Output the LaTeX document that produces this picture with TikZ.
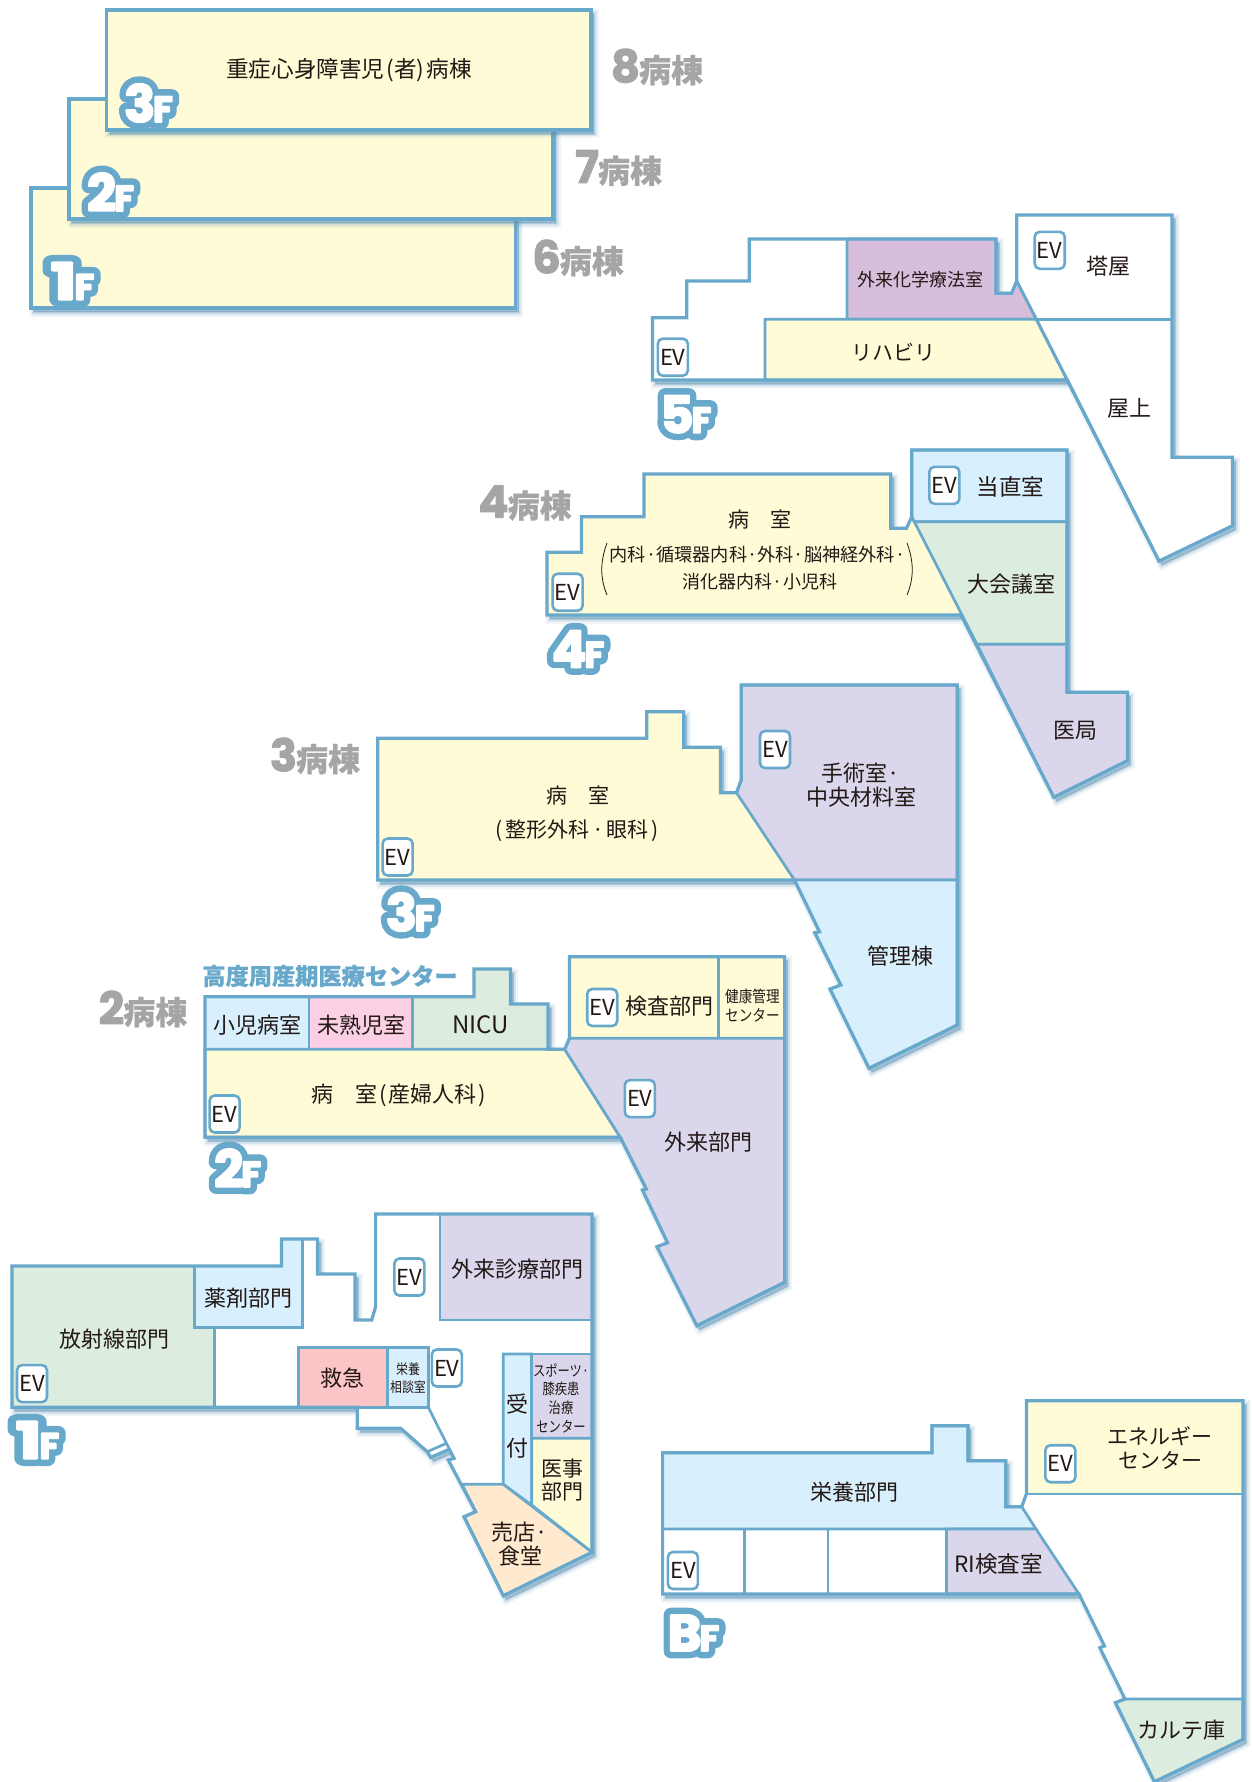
\documentclass[tikz,border=0pt]{standalone}
\usepackage{fontspec}
\usepackage{graphicx}
\setmainfont{Noto Sans CJK JP}[BoldFeatures={FakeBold=.5}]
\newfontfamily\bgoD{Poppins}[BoldFeatures={FakeBold=29}]
\newfontfamily\bgoF{Poppins}[BoldFeatures={FakeBold=41}]
\newfontfamily\bgwD{Poppins}[BoldFeatures={FakeBold=4}]
\newfontfamily\bgwF{Poppins}[BoldFeatures={FakeBold=5}]
\newfontfamily\bgw{Poppins}[BoldFeatures={FakeBold=2}]
\definecolor{bl}{HTML}{68A8CB}
\definecolor{shc}{HTML}{5F93B5}
\definecolor{cy}{HTML}{FFFBD6}
\definecolor{cb}{HTML}{D8F0FE}
\definecolor{cg}{HTML}{DCEDE0}
\definecolor{cp}{HTML}{DAD6EB}
\definecolor{cl}{HTML}{D7BEDC}
\definecolor{cr}{HTML}{FBD0E4}
\definecolor{cs}{HTML}{FCC6C8}
\definecolor{co}{HTML}{FFEACF}
\definecolor{gr}{HTML}{A5A5A5}
\definecolor{tx}{HTML}{231815}
\newcommand{\fz}[1]{\fontsize{#1}{#1}\selectfont}
\newcommand{\fzl}[2]{\fontsize{#1}{#2}\selectfont}
\newcommand{\bdg}[2]{\special{pdf:code 1 j}\mbox{\rlap{\color{bl}\bgoD\bfseries\fontsize{51}{51}\selectfont #1\kern-2pt\bgoF\bfseries\fontsize{36}{36}\selectfont #2}\color{white}\bgwD\bfseries\fontsize{51}{51}\selectfont #1\kern-2pt\bgwF\bfseries\fontsize{36}{36}\selectfont #2}}
\newcommand{\glab}[2]{{\bgw\bfseries\fontsize{45}{45}\selectfont #1}\kern-1pt{\bfseries\fontsize{32}{32}\selectfont #2}}
\newcommand{\sq}[2][.85]{\scalebox{#1}[1]{#2}}
\tikzset{
  outer/.style={draw=bl,line width=3.2pt,line join=miter},
  inner/.style={draw=bl,line width=2.7pt,line join=miter},
  txt/.style={text=tx,inner sep=0pt,align=center,font=\fz{22}},
  ev/.style={draw=bl,fill=white,line width=2.6pt,rounded corners=5pt,minimum width=30pt,minimum height=37pt,inner sep=0pt,text=tx,font=\fz{22}},
  gl/.style={text=gr,inner sep=0pt},
  badge/.style={inner sep=0pt},
  paren/.style={draw=tx,line width=.8pt}
}
\newcommand{\plan}[1]{%
  \begin{scope}[shift={(3,4)}]
    \filldraw[draw=shc,fill=shc,line width=9pt,opacity=.10] #1 -- cycle;
    \filldraw[draw=shc,fill=shc,line width=5pt,opacity=.18] #1 -- cycle;
    \filldraw[draw=shc,fill=shc,line width=1.5pt,opacity=.30] #1 -- cycle;
  \end{scope}
  \fill[white] #1 -- cycle;}
\newcommand{\room}[2]{\filldraw[inner,fill=#1] #2 -- cycle;}
\newcommand{\outl}[1]{\draw[outer] #1 -- cycle;}
\begin{document}
\begin{tikzpicture}[x=1pt,y=-1pt]
\useasboundingbox (0,0) rectangle (1252,1782);

% ---- top stacked wards
\def\pa{(31,188) -- (515.6,188) -- (515.6,308) -- (31,308)}
\plan{\pa}\filldraw[outer,fill=cy] \pa -- cycle;
\def\pb{(69,99) -- (553,99) -- (553,219) -- (69,219)}
\plan{\pb}\filldraw[outer,fill=cy] \pb -- cycle;
\def\pc{(106.5,10) -- (591,10) -- (591,130) -- (106.5,130)}
\plan{\pc}\filldraw[outer,fill=cy] \pc -- cycle;
\node[txt,font=\fz{22.6}] (t3a) at (349,70) {重症心身障害児\kern2pt(者)\kern2pt 病棟};
\node[badge] (b3a) at (148.5,103) {\bdg{3}{F}};
\node[badge] (b2a) at (110.5,192) {\bdg{2}{F}};
\node[badge] (b1a) at (72.5,281) {\bdg{\scalebox{1.35}[1]{1}}{F}};
\node[gl] (g8) at (657,67) {\glab{8}{病棟}};
\node[gl] (g7) at (618.5,168) {\glab{7}{病棟}};
\node[gl] (g6) at (578,258) {\glab{6}{病棟}};

% ---- 5F
\def\pf{(652.5,317.7) -- (686.8,317.7) -- (686.8,281) -- (749.3,281) -- (749.3,239) -- (996,239) -- (996,293.3) -- (1011.6,293.3) -- (1016.7,281) -- (1016.7,215) -- (1172,215) -- (1172,457.3) -- (1232.5,457.3) -- (1232.5,525.7) -- (1159,561) -- (1067.4,380) -- (652.5,380)}
\plan{\pf}
\room{cl}{(846.9,239) -- (996,239) -- (996,293.3) -- (1011.6,293.3) -- (1016.7,281) -- (1036.5,319.3) -- (846.9,319.3)}
\room{cy}{(765,319.3) -- (1036.5,319.3) -- (1067.4,380) -- (765,380)}
\draw[inner] (1036.5,319.3) -- (1172,319.3);
\draw[inner] (1016.7,281) -- (1159,561);
\outl{\pf}
\node[ev] (e5a) at (672.8,357.2) {EV};
\node[ev] (e5b) at (1049.7,250.3) {EV};
\node[txt,font=\fz{18}] (t5a) at (920.6,280) {外来化学療法室};
\node[txt] (t5b) at (1108,265.7) {塔屋};
\node[txt,font=\fz{21}] (t5c) at (893,352.7) {リハビリ};
\node[txt] (t5d) at (1129,408) {屋上};
\node[badge] (b5) at (685.8,414.2) {\bdg{5}{F}};

% ---- 4F
\def\pe{(547,552.3) -- (581.4,552.3) -- (581.4,516.7) -- (644,516.7) -- (644,474) -- (890.8,474) -- (890.8,528.3) -- (906.4,528.3) -- (911.8,516.7) -- (911.8,450) -- (1067,450) -- (1067,692.3) -- (1127.4,692.3) -- (1127.4,760.7) -- (1053.8,797.3) -- (961,615) -- (547,615)}
\plan{\pe}
\fill[cy] (547,552.3) -- (581.4,552.3) -- (581.4,516.7) -- (644,516.7) -- (644,474) -- (890.8,474) -- (890.8,528.3) -- (906.4,528.3) -- (911.8,516.7) -- (961,615) -- (547,615) -- cycle;
\room{cb}{(911.8,450) -- (1067,450) -- (1067,521.7) -- (914.3,521.7) -- (911.8,516.7)}
\room{cg}{(914.3,521.7) -- (1067,521.7) -- (1067,644.3) -- (977,644.3)}
\room{cp}{(977,644.3) -- (1067,644.3) -- (1067,692.3) -- (1127.4,692.3) -- (1127.4,760.7) -- (1053.8,797.3)}
\outl{\pe}
\node[ev] (e4a) at (567.6,592.2) {EV};
\node[ev] (e4b) at (944.4,485.3) {EV};
\node[txt,font=\fz{21}] (t4a) at (759.5,520) {病　室};
\node[txt,font=\fz{18.2}] (t4b) at (757.5,555) {内科·循環器内科·外科·脳神経外科·};
\node[txt,font=\fz{18}] (t4c) at (760,581.7) {消化器内科·小児科};
\draw[paren] (607,543) .. controls (600,562) and (600,578) .. (607,595);
\draw[paren] (907,543) .. controls (914,562) and (914,578) .. (907,595);
\node[txt,font=\fz{22.5}] (t4d) at (1010.7,486.7) {当直室};
\node[txt] (t4e) at (1011,584) {大会議室};
\node[txt] (t4f) at (1075,730.7) {医局};
\node[gl] (g4) at (525,503) {\glab{4}{病棟}};
\node[badge] (b4) at (578,649) {\bdg{4}{F}};

% ---- 3F
\def\pd{(377.8,738.3) -- (646.8,738.3) -- (646.8,711.7) -- (683.6,711.7) -- (683.6,747.3) -- (720.4,747.3) -- (720.4,792.7) -- (736.5,792.7) -- (741.2,780) -- (741.2,685) -- (957.3,685) -- (957.3,1025) -- (869,1068.3) -- (830,989) -- (840.8,985) -- (814.8,932.7) -- (819.5,931.7) -- (794.5,880) -- (377.8,880)}
\plan{\pd}
\fill[cy] (377.8,738.3) -- (646.8,738.3) -- (646.8,711.7) -- (683.6,711.7) -- (683.6,747.3) -- (720.4,747.3) -- (720.4,792.7) -- (736.5,792.7) -- (794.5,880) -- (377.8,880) -- cycle;
\room{cp}{(736.5,792.7) -- (741.2,780) -- (741.2,685) -- (957.3,685) -- (957.3,880) -- (794.5,880)}
\room{cb}{(794.5,880) -- (957.3,880) -- (957.3,1025) -- (869,1068.3) -- (830,989) -- (840.8,985) -- (814.8,932.7) -- (819.5,931.7)}
\outl{\pd}
\node[ev] (e3a) at (397.6,857) {EV};
\node[ev] (e3b) at (775,749.5) {EV};
\node[txt,font=\fz{21}] (t3b) at (577.5,796) {病　室};
\node[txt,font=\fz{21}] (t3c) at (577,830.5) {(\kern3pt 整形外科\kern3pt·\kern3pt 眼科\kern3pt)};
\node[txt,font={\fzl{22}{23.4}}] (t3d) at (861,785) {手術室·\\中央材料室};
\node[txt] (t3e) at (900.7,955.7) {管理棟};
\node[gl] (g3) at (315,756) {\glab{3}{病棟}};
\node[badge] (b3) at (410.3,912) {\bdg{3}{F}};

% ---- 2F
\def\pg{(205,996.7) -- (474,996.7) -- (474,969) -- (510.4,969) -- (510.4,1004) -- (548,1004) -- (548,1049.3) -- (564.7,1049.3) -- (569.4,1038.3) -- (569.4,956.7) -- (784.6,956.7) -- (784.6,1282.3) -- (696.8,1325.7) -- (657,1246.7) -- (667.5,1242.7) -- (642.5,1190) -- (646.3,1189) -- (620.3,1137.3) -- (205,1137.3)}
\plan{\pg}
\room{cb}{(205,996.7) -- (309,996.7) -- (309,1049.3) -- (205,1049.3)}
\room{cr}{(309,996.7) -- (412.7,996.7) -- (412.7,1049.3) -- (309,1049.3)}
\room{cg}{(412.7,996.7) -- (474,996.7) -- (474,969) -- (510.4,969) -- (510.4,1004) -- (548,1004) -- (548,1049.3) -- (412.7,1049.3)}
\room{cy}{(205,1049.3) -- (564.7,1049.3) -- (620.3,1137.3) -- (205,1137.3)}
\room{cy}{(569.4,956.7) -- (718.5,956.7) -- (718.5,1038.3) -- (569.4,1038.3)}
\room{cy}{(718.5,956.7) -- (784.6,956.7) -- (784.6,1038.3) -- (718.5,1038.3)}
\room{cp}{(564.7,1049.3) -- (569.4,1038.3) -- (784.6,1038.3) -- (784.6,1282.3) -- (696.8,1325.7) -- (657,1246.7) -- (667.5,1242.7) -- (642.5,1190) -- (646.3,1189) -- (620.3,1137.3)}
\outl{\pg}
\node[ev] (e2a) at (224.6,1114) {EV};
\node[ev] (e2b) at (602.2,1007.5) {EV};
\node[ev] (e2c) at (639.8,1098.6) {EV};
\node[text=bl,inner sep=0pt,font=\bfseries\fz{23.2}] (t2a) at (330,976) {高度周産期医療センター};
\node[txt] (t2b) at (257,1025) {小児病室};
\node[txt] (t2c) at (361,1025) {未熟児室};
\node[txt,font=\fz{24}] (t2d) at (480.7,1025) {NICU};
\node[txt] (t2e) at (398.6,1095) {病　室\kern2pt(\kern2pt 産婦人科\kern2pt)};
\node[txt] (t2f) at (669,1005.7) {検査部門};
\node[txt,font={\fzl{16}{19}}] (t2g) at (752.4,1005.5) {\sq{健康管理}\\\sq{センター}};
\node[txt] (t2h) at (708,1141.7) {外来部門};
\node[gl] (g2) at (143,1009) {\glab{2}{病棟}};
\node[badge] (b2) at (237.6,1168) {\bdg{2}{F}};

% ---- 1F
\def\ph{(11.9,1266) -- (281.5,1266) -- (281.5,1239) -- (317.5,1239) -- (317.5,1274) -- (355,1274) -- (355,1320) -- (371.7,1320) -- (375.6,1306.7) -- (375.6,1214) -- (592,1214) -- (592,1552.3) -- (503.3,1595.7) -- (464,1516.7) -- (475.7,1511.7) -- (448.3,1460) -- (454,1458.3) -- (449.3,1449.3) -- (430.7,1457.3) -- (427.3,1451.7) -- (400.7,1428.3) -- (357.3,1428.3) -- (357.3,1407.3) -- (11.9,1407.3)}
\plan{\ph}
\room{cg}{(11.9,1266) -- (194.5,1266) -- (194.5,1327.3) -- (214.7,1327.3) -- (214.7,1407.3) -- (11.9,1407.3)}
\room{cb}{(194.5,1266) -- (281.5,1266) -- (281.5,1239) -- (302.5,1239) -- (302.5,1327.3) -- (194.5,1327.3)}
\room{cp}{(440,1214) -- (592,1214) -- (592,1320) -- (440,1320)}
\room{cs}{(298.5,1347.3) -- (387.5,1347.3) -- (387.5,1407.3) -- (298.5,1407.3)}
\room{cb}{(387.5,1347.3) -- (428.2,1347.3) -- (428.2,1407.3) -- (387.5,1407.3)}
\room{cb}{(503.3,1354) -- (531.7,1354) -- (531.7,1505) -- (503.3,1484.3)}
\room{cp}{(531.7,1354) -- (592,1354) -- (592,1438.3) -- (531.7,1438.3)}
\room{cy}{(531.7,1438.3) -- (592,1438.3) -- (592,1552.3) -- (531.7,1505)}
\room{co}{(462,1484.3) -- (503.3,1484.3) -- (592,1552.3) -- (503.3,1595.7) -- (464,1516.7) -- (475.7,1511.7)}
\draw[inner] (214.7,1407.3) -- (428.2,1407.3);
\draw[inner] (428.3,1407.3) -- (454,1458.3);
\draw[inner] (427.3,1451.7) -- (446,1443.5);
\outl{\ph}
\node[ev] (e1a) at (32,1383.6) {EV};
\node[ev] (e1b) at (409.4,1277) {EV};
\node[ev] (e1c) at (446.8,1368) {EV};
\node[txt] (t1a) at (114.7,1339) {放射線部門};
\node[txt] (t1b) at (248.7,1298.3) {薬剤部門};
\node[txt] (t1c) at (517,1269.3) {外来診療部門};
\node[txt] (t1d) at (342.6,1377.7) {救急};
\node[txt,font={\fzl{14}{18}}] (t1e) at (408,1378.5) {\sq{栄養}\\\sq{相談室}};
\node[txt] (t1f) at (517.7,1404) {受};
\node[txt] (t1g) at (517.7,1448) {付};
\node[txt,font={\fzl{15}{18.7}}] (t1h) at (561,1398) {\sq[.82]{スポーツ·}\\\sq[.82]{膝疾患}\\\sq[.82]{治療}\\\sq[.82]{センター}};
\node[txt,font={\fzl{21}{23.7}}] (t1i) at (562.7,1480) {医事\\部門};
\node[txt,font={\fzl{22}{24}}] (t1j) at (520,1544) {売店·\\食堂};
\node[badge] (b1) at (37.5,1440) {\bdg{\scalebox{1.35}[1]{1}}{F}};

% ---- BF
\def\pj{(662.6,1452.7) -- (932,1452.7) -- (932,1425.7) -- (967.9,1425.7) -- (967.9,1460.7) -- (1005.7,1460.7) -- (1005.7,1506.7) -- (1021.7,1506.7) -- (1026.4,1494) -- (1026.4,1400.7) -- (1243,1400.7) -- (1243,1739.3) -- (1154.4,1781.7) -- (1115.4,1702.7) -- (1125,1699) -- (1099.8,1647.7) -- (1104.5,1646) -- (1079,1594) -- (662.6,1594)}
\plan{\pj}
\room{cy}{(1026.4,1400.7) -- (1243,1400.7) -- (1243,1494) -- (1026.4,1494)}
\room{cb}{(662.6,1452.7) -- (932,1452.7) -- (932,1425.7) -- (967.9,1425.7) -- (967.9,1460.7) -- (1005.7,1460.7) -- (1005.7,1506.7) -- (1021.7,1506.7) -- (1036,1529) -- (662.6,1529)}
\room{cp}{(946.4,1529) -- (1036,1529) -- (1079,1594) -- (946.4,1594)}
\draw[inner] (744.6,1529) -- (744.6,1594);
\draw[inner] (828,1529) -- (828,1594);
\room{cg}{(1125,1699) -- (1243,1699) -- (1243,1739.3) -- (1154.4,1781.7) -- (1115.4,1702.7)}
\outl{\pj}
\node[ev] (e0a) at (1060.4,1463.7) {EV};
\node[ev] (e0b) at (682.9,1570.5) {EV};
\node[txt] (t0a) at (854,1491.7) {栄養部門};
\node[txt,font=\fz{22.5}] (t0b) at (998.7,1564) {RI検査室};
\node[txt,font={\fzl{21}{24}}] (t0c) at (1160,1448) {エネルギー\\センター};
\node[txt] (t0d) at (1181,1730) {カルテ庫};
\node[badge] (b0) at (693.5,1633) {\bdg{B}{F}};
\end{tikzpicture}
\end{document}
